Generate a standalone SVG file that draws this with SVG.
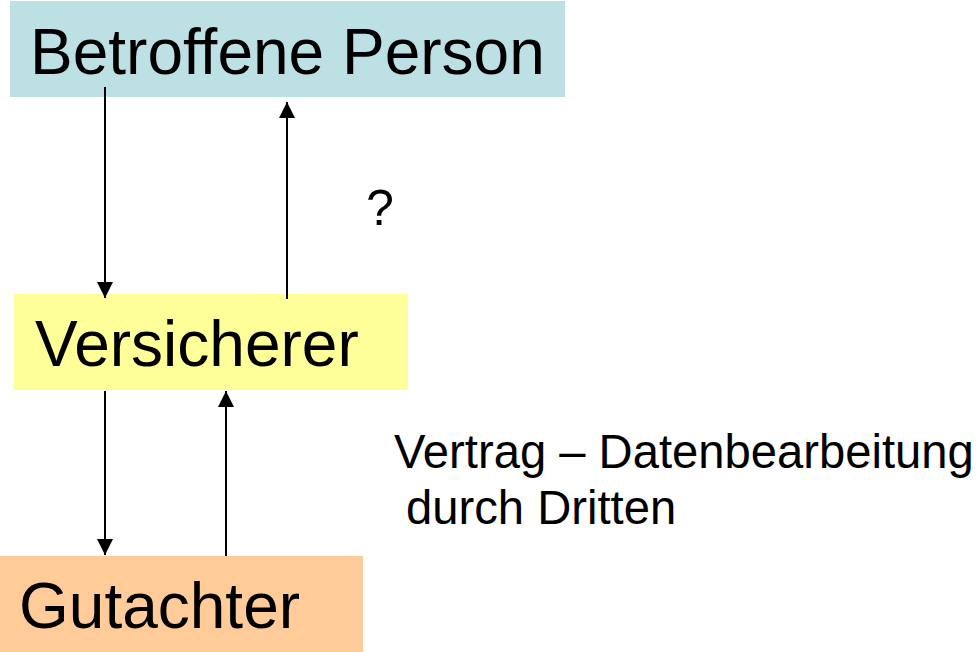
<svg xmlns="http://www.w3.org/2000/svg" width="980" height="652" viewBox="0 0 980 652">
  <style>
    .label { font-family: "Liberation Sans", Arial, sans-serif; fill: #000; }
    .node-text { font-size: 64px; }
    .note { font-size: 47.2px; }
    .conn { stroke: #000; stroke-width: 2; fill: none; marker-end: url(#head); }
  </style>
  <defs>
    <marker id="head" viewBox="0 0 16 16" refX="16" refY="8" markerWidth="16" markerHeight="16" markerUnits="userSpaceOnUse" orient="auto">
      <path d="M0,0 L16,8 L0,16 Z" fill="#000"/>
    </marker>
  </defs>

  <rect width="980" height="652" fill="#fff"/>

  <g id="betroffene-person">
    <rect x="10" y="1" width="555" height="96" fill="#BCE0E3"/>
    <text class="label node-text" x="30" y="74">Betroffene Person</text>
  </g>

  <g id="versicherer">
    <rect x="14" y="294" width="394" height="96" fill="#FFFF99"/>
    <text class="label node-text" x="35" y="366">Versicherer</text>
  </g>

  <g id="gutachter">
    <rect x="0" y="556" width="363" height="96" fill="#FFCC99"/>
    <text class="label node-text" x="19" y="628">Gutachter</text>
  </g>

  <g id="connectors">
    <line class="conn" x1="105" y1="87" x2="105" y2="298"/>
    <line class="conn" x1="287" y1="299" x2="287" y2="102"/>
    <line class="conn" x1="105" y1="391" x2="105" y2="555"/>
    <line class="conn" x1="226" y1="556" x2="226" y2="391"/>
  </g>

  <g id="annotations">
    <text class="label" x="366" y="225" font-size="50">?</text>
    <text class="label note" x="394" y="468">Vertrag – Datenbearbeitung</text>
    <text class="label note" x="406" y="524">durch Dritten</text>
  </g>
</svg>
